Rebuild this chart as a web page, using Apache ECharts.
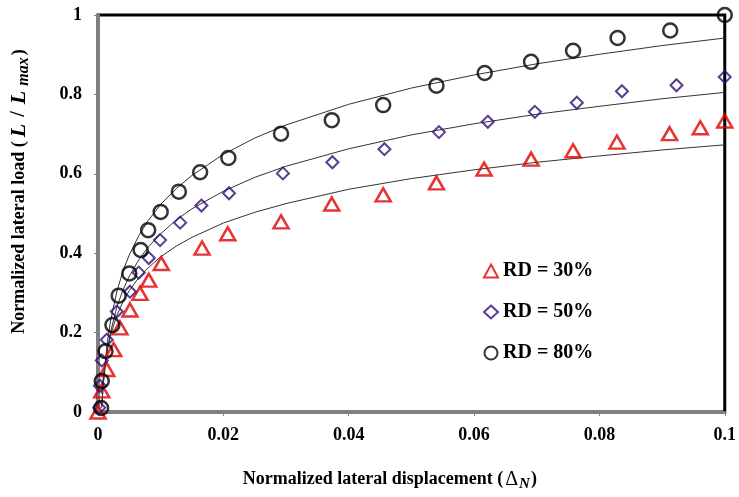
<!DOCTYPE html>
<html><head><meta charset="utf-8">
<script src="https://cdn.jsdelivr.net/npm/echarts/dist/echarts.min.js"></script>
<style>html,body{margin:0;padding:0;background:#fff}#c{width:739px;height:497px}</style>
</head><body><div id="c"></div>
<script>
const seriesNames = ['RD = 30%', 'RD = 50%', 'RD = 80%'];

const rd30X = [0, 0.0006, 0.0014, 0.0025, 0.0035, 0.0051, 0.0067, 0.0081, 0.0101, 0.0166, 0.0207, 0.0292, 0.0373, 0.0455, 0.054, 0.0616, 0.0691, 0.0758, 0.0828, 0.0912, 0.0961, 0.1];
const rd30Y = [0, 0.053, 0.107, 0.157, 0.212, 0.257, 0.299, 0.332, 0.374, 0.413, 0.449, 0.479, 0.524, 0.547, 0.577, 0.612, 0.637, 0.658, 0.680, 0.701, 0.716, 0.733];

const rd50X = [0.0002, 0.0003, 0.0006, 0.0014, 0.003, 0.0051, 0.0065, 0.0081, 0.0099, 0.0131, 0.0165, 0.0209, 0.0295, 0.0374, 0.0457, 0.0544, 0.0622, 0.0697, 0.0764, 0.0836, 0.0923, 0.1];
const rd50Y = [0.011, 0.066, 0.13, 0.182, 0.253, 0.303, 0.351, 0.388, 0.433, 0.477, 0.520, 0.551, 0.601, 0.629, 0.662, 0.705, 0.731, 0.756, 0.779, 0.808, 0.823, 0.844];

const rd80X = [0.0005, 0.0006, 0.0012, 0.0023, 0.0033, 0.005, 0.0068, 0.008, 0.01, 0.0129, 0.0163, 0.0208, 0.0292, 0.0373, 0.0455, 0.054, 0.0617, 0.0691, 0.0758, 0.0829, 0.0913, 0.1];
const rd80Y = [0.01, 0.078, 0.153, 0.219, 0.293, 0.349, 0.408, 0.458, 0.504, 0.555, 0.604, 0.640, 0.701, 0.735, 0.773, 0.822, 0.854, 0.882, 0.910, 0.942, 0.961, 1.0];

// fitted trend curves
const fitX  = [0.0006, 0.0008, 0.001, 0.0015, 0.002, 0.003, 0.004, 0.005, 0.0065, 0.008, 0.01, 0.0125, 0.015, 0.02, 0.025, 0.03, 0.04, 0.05, 0.06, 0.07, 0.08, 0.09, 0.1];
const fit30 = [0.046, 0.081, 0.109, 0.158, 0.194, 0.243, 0.278, 0.306, 0.338, 0.363, 0.391, 0.418, 0.440, 0.476, 0.503, 0.525, 0.561, 0.588, 0.610, 0.629, 0.645, 0.660, 0.673];
const fit50 = [0.015, 0.059, 0.094, 0.156, 0.201, 0.264, 0.308, 0.342, 0.383, 0.415, 0.449, 0.484, 0.512, 0.556, 0.591, 0.619, 0.663, 0.698, 0.726, 0.750, 0.770, 0.789, 0.805];
const fit80 = [0.010, 0.062, 0.103, 0.177, 0.229, 0.303, 0.356, 0.396, 0.444, 0.482, 0.523, 0.563, 0.596, 0.649, 0.690, 0.723, 0.775, 0.816, 0.849, 0.877, 0.901, 0.923, 0.942];

const xTickLabels = ['0', '0.02', '0.04', '0.06', '0.08', '0.1'];
const yTickLabels = ['0', '0.2', '0.4', '0.6', '0.8', '1'];

const zip = (a, b) => a.map((v, i) => [v, b[i]]);
const FONT = "'Liberation Serif', 'Times New Roman', serif";

const chart = echarts.init(document.getElementById('c'), null, {renderer: 'canvas'});

function fitSeries(ys) {
  return {
    type: 'line', data: zip(fitX, ys), showSymbol: false, symbol: 'none', silent: true,
    clip: false, z: 1, lineStyle: {color: '#333', width: 1}
  };
}
function pointSeries(name, xs, ys, symbol, size, color, bw) {
  return {
    type: 'scatter', name: name, data: zip(xs, ys), symbol: symbol, symbolSize: size,
    clip: false, z: 3,
    itemStyle: {color: 'rgba(255,255,255,0)', borderColor: color, borderWidth: bw}
  };
}

const bold = {fontFamily: FONT, fontWeight: 'bold', fontSize: 18, color: '#000'};

chart.setOption({
  animation: false,
  backgroundColor: '#fff',
  grid: {left: 98, right: 12, top: 15, bottom: 82, show: true, borderColor: '#000', borderWidth: 3, backgroundColor: 'transparent'},
  legend: {
    data: seriesNames, orient: 'vertical', left: 478, top: 256, itemGap: 21,
    itemWidth: 14, itemHeight: 13,
    textStyle: {fontFamily: FONT, fontWeight: 'bold', fontSize: 20, color: '#000'}
  },
  xAxis: {
    type: 'value', min: 0, max: 0.1, interval: 0.02,
    name: '{b|Normalized lateral displacement (}{d|Δ}{i|N}{b|)}',
    nameLocation: 'middle', nameGap: 55,
    nameTextStyle: {
      padding: [0, 43, 0, 0],
      rich: {
        b: bold,
        d: Object.assign({}, bold, {fontSize: 20, fontWeight: 'normal', padding: [0, 1, 0, 2]}),
        i: Object.assign({}, bold, {fontStyle: 'italic', fontSize: 15, verticalAlign: 'bottom', padding: [10, 1, 0, 0]})
      }
    },
    axisLine: {lineStyle: {color: '#808080', width: 3}},
    axisTick: {show: true, length: 4, inside: false, lineStyle: {color: '#808080', width: 1}},
    splitLine: {show: false},
    axisLabel: {
      margin: 14, color: '#000', fontFamily: FONT, fontWeight: 'bold', fontSize: 18,
      formatter: v => xTickLabels[Math.round(v / 0.02)]
    }
  },
  yAxis: {
    type: 'value', min: 0, max: 1, interval: 0.2,
    name: '{b|Normalized lateral load (}{i|L}{sl|/}{i|L}{s|max}{b|)}',
    nameLocation: 'middle', nameGap: 66,
    nameTextStyle: {
      padding: [0, 0, 0, 44],
      rich: {
        b: bold,
        i: Object.assign({}, bold, {fontStyle: 'italic', fontSize: 22, padding: [0, 4, 0, 4]}),
        sl: Object.assign({}, bold, {fontSize: 20, padding: [0, 3, 0, 3]}),
        s: Object.assign({}, bold, {fontStyle: 'italic', fontSize: 16, verticalAlign: 'bottom', padding: [10, 2, 0, 1]})
      }
    },
    axisLine: {lineStyle: {color: '#808080', width: 3}},
    axisTick: {show: true, length: 4, lineStyle: {color: '#808080', width: 1}},
    splitLine: {show: false},
    axisLabel: {
      margin: 16, color: '#000', fontFamily: FONT, fontWeight: 'bold', fontSize: 18,
      formatter: v => yTickLabels[Math.round(v / 0.2)]
    }
  },
  series: [
    fitSeries(fit30), fitSeries(fit50), fitSeries(fit80),
    pointSeries(seriesNames[0], rd30X, rd30Y, 'triangle', [15, 13], '#e00000', 2.5),
    pointSeries(seriesNames[1], rd50X, rd50Y, 'diamond', 12, '#2e0d78', 2),
    pointSeries(seriesNames[2], rd80X, rd80Y, 'circle', 14, '#000', 2.5)
  ]
});
</script></body></html>
